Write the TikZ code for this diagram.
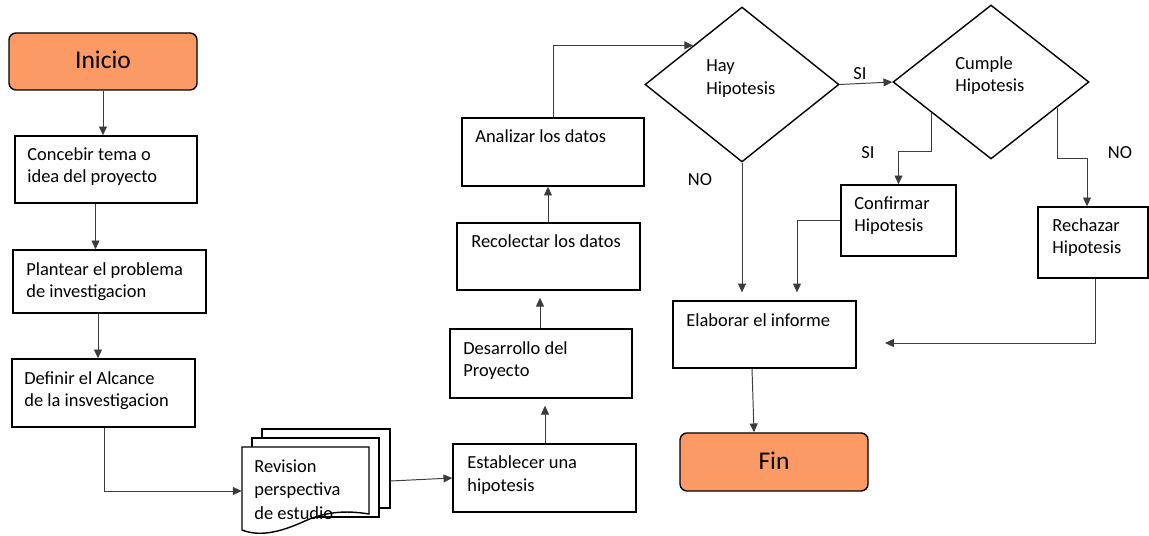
\documentclass[tikz,border=0pt]{standalone}
\usepackage{fontspec}
\setmainfont{Carlito}
\usetikzlibrary{arrows.meta,fit,shapes.geometric,calc}
\definecolor{termfill}{RGB}{251,154,101}
\definecolor{linkgray}{RGB}{60,60,60}
\begin{document}
\begin{tikzpicture}[x=0.02cm,y=-0.02cm,
  box/.style={draw=black, line width=0.8pt, fill=white, inner sep=0pt},
  term/.style={draw=black, line width=0.8pt, fill=termfill, rounded corners=4pt, inner sep=0pt},
  page/.style={draw=black, line width=0.8pt, fill=white},
  decision/.style={draw=black, line width=0.8pt, diamond, inner sep=0pt},
  txt/.style={anchor=north west, inner sep=0pt, align=left, font=\fontsize{10.5}{13}\selectfont},
  lbl/.style={inner sep=0pt, font=\fontsize{10.5}{13}\selectfont},
  big/.style={inner sep=0pt, font=\fontsize{14.5}{17}\selectfont},
  link/.style={draw=linkgray, line width=0.55pt, -{Triangle[length=5pt,width=4.5pt]}}
]
\useasboundingbox (0,0) rectangle (1149,536);

% guide coordinates for connector columns and rows
\coordinate (x95) at (95.5,0);
\coordinate (x98) at (98,0);
\coordinate (x104) at (104,0);
\coordinate (x540) at (540,0);
\coordinate (x545) at (545,0);
\coordinate (x548) at (548,0);
\coordinate (x752) at (752,0);
\coordinate (x754) at (754,0);
\coordinate (x797) at (797,0);
\coordinate (x1087) at (1087,0);
\coordinate (x1095) at (1095,0);
\coordinate (y151) at (0,151);
\coordinate (y158) at (0,158);
\coordinate (y481) at (0,481);
\coordinate (y491) at (0,491);
\coordinate (freeend) at (885,343);

% terminals
\node[term, fit={(9,33) (197,90)}] (ini) {};
\node[big] (initxt) at (103,60) {Inicio};
\node[term, fit={(680,433) (868,491)}] (fin) {};
\node[big] (fintxt) at (774,461) {Fin};

% left column
\node[box, fit={(15,136) (197,203)}] (conc) {};
\node[txt] (conctxt) at (27,147) {Concebir tema o\\idea del proyecto};
\node[box, fit={(13,250) (206,313)}] (plan) {};
\node[txt] (plantxt) at (26,262) {Plantear el problema\\de investigacion};
\node[box, fit={(12,359) (195,427)}] (defi) {};
\node[txt] (defitxt) at (24,371) {Definir el Alcance\\de la insvestigacion};

% stacked documents
\draw[page] (262,429) rectangle (390,508);
\node[fit={(262,429) (390,508)}, inner sep=0pt] (pg3) {};
\draw[page] (252,438) rectangle (379,517);
\draw[page] (242,447) -- (369,447) -- (369,514)
  .. controls (345,510) and (325,512) .. (305,521)
  .. controls (285,530) and (262,538) .. (242,530) -- cycle;
\node[fit={(242,447) (369,514)}, inner sep=0pt] (rev) {};
\node[txt, font=\fontsize{10.5}{13.4}\selectfont] (revtxt) at (254,459) {Revision\\perspectiva\\de estudio};

% middle column
\node[box, fit={(453,444) (636,512)}] (est) {};
\node[txt] (esttxt) at (467,455) {Establecer una\\hipotesis};
\node[box, fit={(450,329) (632,398)}] (des) {};
\node[txt] (destxt) at (463,341) {Desarrollo del\\Proyecto};
\node[box, fit={(457,223) (640,290)}] (rec) {};
\node[txt] (rectxt) at (471,234) {Recolectar los datos};
\node[box, fit={(462,118) (644,186)}] (anal) {};
\node[txt] (analtxt) at (475,129) {Analizar los datos};

% decisions
\node[decision, minimum width=3.88cm, minimum height=3.1cm] (hay) at (742,84.5) {};
\node[txt] (haytxt) at (706,59) {Hay\\Hipotesis};
\node[decision, minimum width=3.92cm, minimum height=3.08cm] (cum) at (991,82) {};
\node[txt] (cumtxt) at (955,56) {Cumple\\Hipotesis};

% right side boxes
\node[box, fit={(841,185) (956,256)}] (conf) {};
\node[txt] (conftxt) at (854,196) {Confirmar\\Hipotesis};
\node[box, fit={(1038,207) (1148,278)}] (rech) {};
\node[txt] (rechtxt) at (1052,218) {Rechazar\\Hipotesis};
\node[box, fit={(673,301) (856,368)}] (elab) {};
\node[txt] (elabtxt) at (686,313) {Elaborar el informe};

% branch labels
\node[lbl] (si1) at (860,74) {SI};
\node[lbl] (si2) at (868,153) {SI};
\node[lbl] (no1) at (700,180) {NO};
\node[lbl] (no2) at (1120,153) {NO};

% connectors
\draw[link] (ini.south) -- (ini.south |- conc.north);
\draw[link] (conc.south -| x95) -- (plan.north -| x95);
\draw[link] (plan.south -| x98) -- (defi.north -| x98);
\draw[link] (defi.south -| x104) |- (rev.west |- y491);
\draw[link] (pg3.east |- y481) -- (est.west);
\draw[link, shorten >=4pt] (est.north -| x545) -- (des.south -| x545);
\draw[link, shorten >=4pt] (des.north -| x540) -- (rec.south -| x540);
\draw[link] (rec.north -| x548) -- (anal.south -| x548);
\draw[link] (anal.north) |- (hay.north west);
\draw[link] (hay.east) -- (cum.west);
\coordinate (cumA) at ($(cum.west)!0.4!(cum.south)$);
\coordinate (cumB) at ($(cum.east)!0.33!(cum.south)$);
\draw[link] (cumA) -- (cumA |- y151) -| (conf.north);
\draw[link] (cumB) -- (cumB |- y158) -| (rech.north -| x1087);
\draw[link] (rech.south -| x1095) |- (freeend);
\draw[link, shorten >=4.5pt] (conf.west) -| (elab.north -| x797);
\draw[link, shorten >=4.5pt] (hay.south) -- (hay.south |- elab.north);
\draw[link] (elab.south -| x752) -- (fin.north -| x754);
\end{tikzpicture}
\end{document}
